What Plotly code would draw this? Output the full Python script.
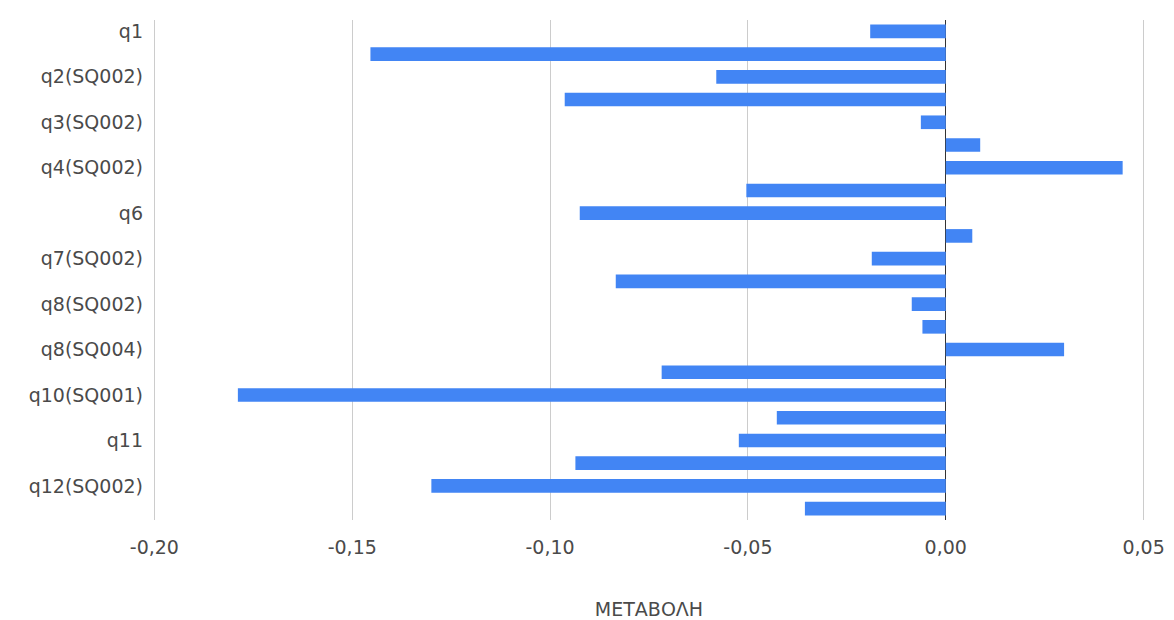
import plotly.graph_objects as go

categories = [
    "q1", "q2(SQ001)", "q2(SQ002)", "q3(SQ001)", "q3(SQ002)", "q4(SQ001)",
    "q4(SQ002)", "q5", "q6", "q7(SQ001)", "q7(SQ002)", "q8(SQ001)",
    "q8(SQ002)", "q8(SQ003)", "q8(SQ004)", "q9", "q10(SQ001)", "q10(SQ002)",
    "q11", "q12(SQ001)", "q12(SQ002)", "q12(SQ003)",
]
values = [
    -0.0191, -0.1454, -0.0580, -0.0963, -0.0063, 0.0087,
    0.0447, -0.0504, -0.0925, 0.0067, -0.0187, -0.0834,
    -0.0086, -0.0059, 0.0299, -0.0718, -0.1789, -0.0427,
    -0.0523, -0.0936, -0.1300, -0.0356,
]
shown_labels = [
    "q1", "q2(SQ002)", "q3(SQ002)", "q4(SQ002)", "q6", "q7(SQ002)",
    "q8(SQ002)", "q8(SQ004)", "q10(SQ001)", "q11", "q12(SQ002)",
]
x_ticks = [-0.20, -0.15, -0.10, -0.05, 0.00, 0.05]
x_tick_labels = ["-0,20", "-0,15", "-0,10", "-0,05", "0,00", "0,05"]
x_title = "ΜΕΤΑΒΟΛΗ"

FONT = "DejaVu Sans, Liberation Sans, Arial, sans-serif"
TXT = "#4a4a4a"

fig = go.Figure(
    go.Bar(
        x=values,
        y=categories,
        orientation="h",
        marker=dict(color="#4285f4", line=dict(width=0)),
        hoverinfo="x+y",
    )
)

fig.update_layout(
    width=1174,
    height=620,
    margin=dict(l=152, r=28, t=20, b=100, autoexpand=False),
    paper_bgcolor="white",
    plot_bgcolor="white",
    bargap=0.4,
    showlegend=False,
    font=dict(family=FONT, size=19, color=TXT),
)

fig.update_xaxes(
    range=[-0.2006, 0.0506],
    tickvals=x_ticks,
    ticktext=x_tick_labels,
    automargin=False,
    showgrid=True,
    gridcolor="#cccccc",
    gridwidth=1,
    zeroline=True,
    zerolinecolor="#333333",
    zerolinewidth=1,
    showline=False,
    ticks="",
    ticklabelstandoff=14,
    tickfont=dict(family=FONT, size=19, color=TXT),
    title=dict(text=x_title, standoff=48, font=dict(family=FONT, size=19, color=TXT)),
)

fig.update_yaxes(
    type="category",
    categoryorder="array",
    categoryarray=categories,
    autorange="reversed",
    tickvals=shown_labels,
    automargin=False,
    showgrid=False,
    zeroline=False,
    showline=False,
    ticks="",
    ticklabelstandoff=8,
    tickfont=dict(family=FONT, size=19, color=TXT),
)

# remove the browser's default 8px body margin so the figure fills the window
fig.write_html(
    "out.html",
    config={"displayModeBar": False},
    post_script="document.body.style.margin='0';document.body.style.overflow='hidden';",
)
